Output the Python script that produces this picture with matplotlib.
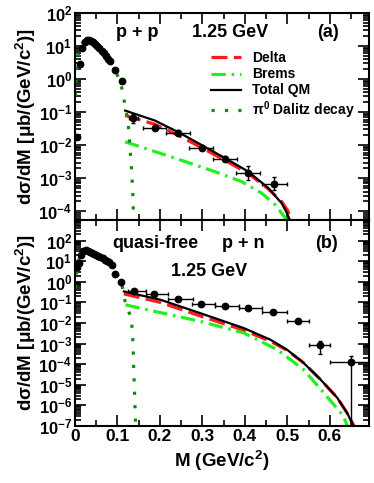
import matplotlib
matplotlib.use("Agg")
import matplotlib.pyplot as plt
import numpy as np
from matplotlib.ticker import FuncFormatter, LogLocator, MultipleLocator, NullFormatter

plt.rcParams["font.family"] = ["Liberation Sans", "DejaVu Sans"]
plt.rcParams["font.weight"] = "bold"
plt.rcParams["axes.labelweight"] = "bold"
plt.rcParams["mathtext.fontset"] = "custom"
plt.rcParams["mathtext.rm"] = "Liberation Sans:bold"
plt.rcParams["mathtext.bf"] = "Liberation Sans:bold"
plt.rcParams["mathtext.it"] = "Liberation Sans:bold"
plt.rcParams["mathtext.sf"] = "Liberation Sans:bold"

# ---- p + p (panel a) ----
pp_low_m = [0.005, 0.0125, 0.0175, 0.0225, 0.0275, 0.0325, 0.0375, 0.0425, 0.0475,
            0.0525, 0.0575, 0.0625, 0.0675, 0.0725, 0.0775, 0.0825, 0.094, 0.11]
pp_low_y = [0.018, 2.8, 8.5, 13, 15.5, 15.5, 14.5, 13, 11.5,
            10, 8.5, 7.2, 6, 5, 4.2, 3.5, 1.9, 0.85]

pp_m = [0.137, 0.188, 0.243, 0.298, 0.353, 0.407, 0.468]
pp_y = [0.066, 0.034, 0.024, 0.0085, 0.0039, 0.00145, 0.00068]
pp_xlo = [0.127, 0.160, 0.214, 0.269, 0.324, 0.380, 0.440]
pp_xhi = [0.148, 0.214, 0.271, 0.326, 0.382, 0.435, 0.500]
pp_ylo = [0.048, 0.029, 0.021, 0.0072, 0.0033, 0.00092, 0.00043]
pp_yhi = [0.090, 0.040, 0.028, 0.0100, 0.0046, 0.00230, 0.00108]

pp_delta_m = [0.118, 0.188, 0.243, 0.298, 0.353, 0.408, 0.455, 0.486, 0.500, 0.510]
pp_delta_y = [0.080, 0.043, 0.020, 0.0085, 0.0035, 0.0014, 0.00048, 0.00020, 0.00011, 5.5e-5]

pp_brems_m = [0.118, 0.141, 0.235, 0.329, 0.392, 0.439, 0.471, 0.494, 0.498]
pp_brems_y = [0.0127, 0.0102, 0.0041, 0.0016, 0.0008, 0.00036, 0.00016, 6.6e-5, 5.5e-5]

pp_total_m = [0.118, 0.188, 0.243, 0.298, 0.353, 0.408, 0.455, 0.486, 0.497, 0.506]
pp_total_y = [0.112, 0.056, 0.025, 0.0102, 0.0041, 0.0016, 0.00051, 0.00018, 0.0001, 5.5e-5]

pp_dalitz_m = [0.001, 0.004, 0.008, 0.0125, 0.02, 0.03, 0.04, 0.05, 0.06, 0.07, 0.08,
               0.09, 0.10, 0.11, 0.118, 0.125, 0.129, 0.133, 0.136, 0.138]
pp_dalitz_y = [0.3, 2.0, 6.0, 10, 14, 16, 14, 11.5, 8.5, 6.0, 4.0,
               2.4, 1.3, 0.55, 0.16, 0.05, 0.01, 0.002, 0.0004, 5e-5]

# ---- quasi-free p + n (panel b) ----
pn_low_m = [0.005, 0.01, 0.015, 0.02, 0.025, 0.03, 0.035, 0.04, 0.045, 0.05, 0.055,
            0.06, 0.065, 0.07, 0.075, 0.08, 0.086, 0.095, 0.108]
pn_low_y = [5, 8, 20, 32, 36, 33, 29, 26, 23, 20.5, 18,
            16, 14, 12, 10.5, 9, 6.5, 2.4, 1.0]

pn_m = [0.140, 0.187, 0.242, 0.297, 0.352, 0.407, 0.466, 0.525, 0.576, 0.650]
pn_y = [0.34, 0.25, 0.15, 0.085, 0.069, 0.056, 0.033, 0.0125, 0.00083, 0.000125]
pn_xlo = [0.125, 0.168, 0.220, 0.275, 0.330, 0.385, 0.440, 0.500, 0.550, 0.600]
pn_xhi = [0.168, 0.220, 0.278, 0.330, 0.385, 0.440, 0.500, 0.550, 0.600, 0.720]
pn_ylo = [0.30, 0.22, 0.13, 0.075, 0.061, 0.049, 0.029, 0.0108, 0.00033, 1e-9]
pn_yhi = [0.38, 0.28, 0.17, 0.096, 0.078, 0.064, 0.038, 0.0145, 0.00129, 0.00024]

pn_delta_m = [0.115, 0.201, 0.295, 0.397, 0.460, 0.499, 0.538, 0.578, 0.617, 0.640, 0.657]
pn_delta_y = [0.26, 0.10, 0.022, 0.0045, 0.0013, 0.00048, 0.000117, 1.8e-5, 2.4e-6, 4.5e-7, 1e-7]

pn_brems_m = [0.119, 0.162, 0.295, 0.397, 0.476, 0.538, 0.585, 0.632, 0.641]
pn_brems_y = [0.076, 0.048, 0.012, 0.0033, 0.00051, 5.5e-5, 4.2e-6, 3.1e-7, 1e-7]

pn_total_m = [0.115, 0.201, 0.295, 0.397, 0.460, 0.499, 0.538, 0.578, 0.617, 0.640, 0.656]
pn_total_y = [0.34, 0.135, 0.030, 0.0057, 0.00155, 0.00051, 0.000117, 1.8e-5, 2.4e-6, 4.5e-7, 1e-7]

pn_dalitz_m = [0.001, 0.004, 0.009, 0.015, 0.025, 0.035, 0.05, 0.06, 0.07, 0.08, 0.09,
               0.10, 0.11, 0.119, 0.131, 0.135, 0.137, 0.138, 0.140, 0.142, 0.143]
pn_dalitz_y = [0.5, 4, 12, 22, 33, 30, 21, 17, 12.5, 9, 5,
               2.2, 0.8, 0.085, 0.021, 0.0048, 0.00074, 8e-5, 6e-6, 3e-7, 5e-8]

RED = "#ff1a1a"
LIME = "#22ee22"
DKGREEN = "#138a13"


def exp_label(hide=()):
    def f(v, pos):
        e = int(round(np.log10(v)))
        if e in hide:
            return ""
        return r"$10^{%d}$" % e
    return FuncFormatter(f)


def style_axes(ax, hide=()):
    ax.set_yscale("log")
    ax.set_xlim(0, 0.692)
    ax.xaxis.set_major_locator(MultipleLocator(0.1))
    ax.xaxis.set_minor_locator(MultipleLocator(0.05))
    ax.yaxis.set_major_locator(LogLocator(base=10, numticks=30))
    ax.yaxis.set_minor_locator(LogLocator(base=10, subs=np.arange(2, 10), numticks=30))
    ax.yaxis.set_major_formatter(exp_label(hide))
    ax.yaxis.set_minor_formatter(NullFormatter())
    ax.tick_params(which="both", direction="in", top=True, right=True, width=1.2)
    ax.tick_params(which="major", length=8, labelsize=12, pad=2)
    ax.tick_params(which="minor", length=4)
    for s in ax.spines.values():
        s.set_linewidth(1.5)
    ax.set_ylabel(r"d$\sigma$/dM [$\mu$b/(GeV/c$^{2}$)]", fontsize=13.5, labelpad=0)


def draw_panel(ax, low_m, low_y, m, y, xlo, xhi, ylo, yhi,
               d_m, d_y, b_m, b_y, t_m, t_y, z_m, z_y):
    ax.plot(d_m, d_y, color=RED, lw=2.3, dashes=(5, 2), label="Delta")
    ax.plot(b_m, b_y, color=LIME, lw=2.3, dashes=(4.5, 1.8, 0.8, 1.8), label="Brems")
    ax.plot(t_m, t_y, color="black", lw=1.6, label="Total QM")
    ax.plot(z_m, z_y, color=DKGREEN, lw=2.3, dashes=(1, 3.2), label=r"$\pi^{0}$ Dalitz decay")
    ax.plot(low_m, low_y, "o", color="black", ms=4.6, zorder=3)
    m = np.array(m)
    y = np.array(y)
    xerr = [m - np.array(xlo), np.array(xhi) - m]
    yerr = [y - np.array(ylo), np.array(yhi) - y]
    ax.errorbar(m, y, xerr=xerr, yerr=yerr, fmt="o", color="black", ms=4.6,
                elinewidth=1.0, capsize=1.5, capthick=1.0, zorder=4)


fig = plt.figure(figsize=(3.74, 4.83), dpi=100)
ax_a = fig.add_axes([0.2005, 0.5445, 0.786, 0.4286])
ax_b = fig.add_axes([0.2005, 0.118, 0.786, 0.4265])

draw_panel(ax_a, pp_low_m, pp_low_y, pp_m, pp_y, pp_xlo, pp_xhi, pp_ylo, pp_yhi,
           pp_delta_m, pp_delta_y, pp_brems_m, pp_brems_y,
           pp_total_m, pp_total_y, pp_dalitz_m, pp_dalitz_y)
style_axes(ax_a)
ax_a.set_ylim(5.5e-5, 100)
ax_a.tick_params(axis="x", labelbottom=False)

draw_panel(ax_b, pn_low_m, pn_low_y, pn_m, pn_y, pn_xlo, pn_xhi, pn_ylo, pn_yhi,
           pn_delta_m, pn_delta_y, pn_brems_m, pn_brems_y,
           pn_total_m, pn_total_y, pn_dalitz_m, pn_dalitz_y)
style_axes(ax_b, hide=(3,))
ax_b.set_ylim(1e-7, 1e3)
ax_b.tick_params(axis="x", labelsize=12.5)
ax_b.xaxis.set_major_formatter(FuncFormatter(lambda v, p: "0" if abs(v) < 1e-9 else f"{v:.1f}"))
ax_b.set_xlabel(r"M (GeV/c$^{2}$)", fontsize=13.5, labelpad=4)

for ax in (ax_a, ax_b):
    for lab in ax.get_xticklabels() + ax.get_yticklabels():
        lab.set_fontweight("bold")

ax_a.legend(loc="upper left", bbox_to_anchor=(0.462, 0.815), frameon=False,
            fontsize=10, handlelength=2.2, handletextpad=0.75, labelspacing=0.15,
            borderpad=0, borderaxespad=0)

ax_a.text(0.211, 0.908, "p + p", transform=ax_a.transAxes, ha="center", va="center", fontsize=13)
ax_a.text(0.527, 0.908, "1.25 GeV", transform=ax_a.transAxes, ha="center", va="center", fontsize=13)
ax_a.text(0.861, 0.908, "(a)", transform=ax_a.transAxes, ha="center", va="center", fontsize=13)

ax_b.text(0.272, 0.888, "quasi-free", transform=ax_b.transAxes, ha="center", va="center", fontsize=13)
ax_b.text(0.571, 0.888, "p + n", transform=ax_b.transAxes, ha="center", va="center", fontsize=13)
ax_b.text(0.857, 0.888, "(b)", transform=ax_b.transAxes, ha="center", va="center", fontsize=13)
ax_b.text(0.456, 0.748, "1.25 GeV", transform=ax_b.transAxes, ha="center", va="center", fontsize=13)

fig.savefig("out.png", dpi=100)
